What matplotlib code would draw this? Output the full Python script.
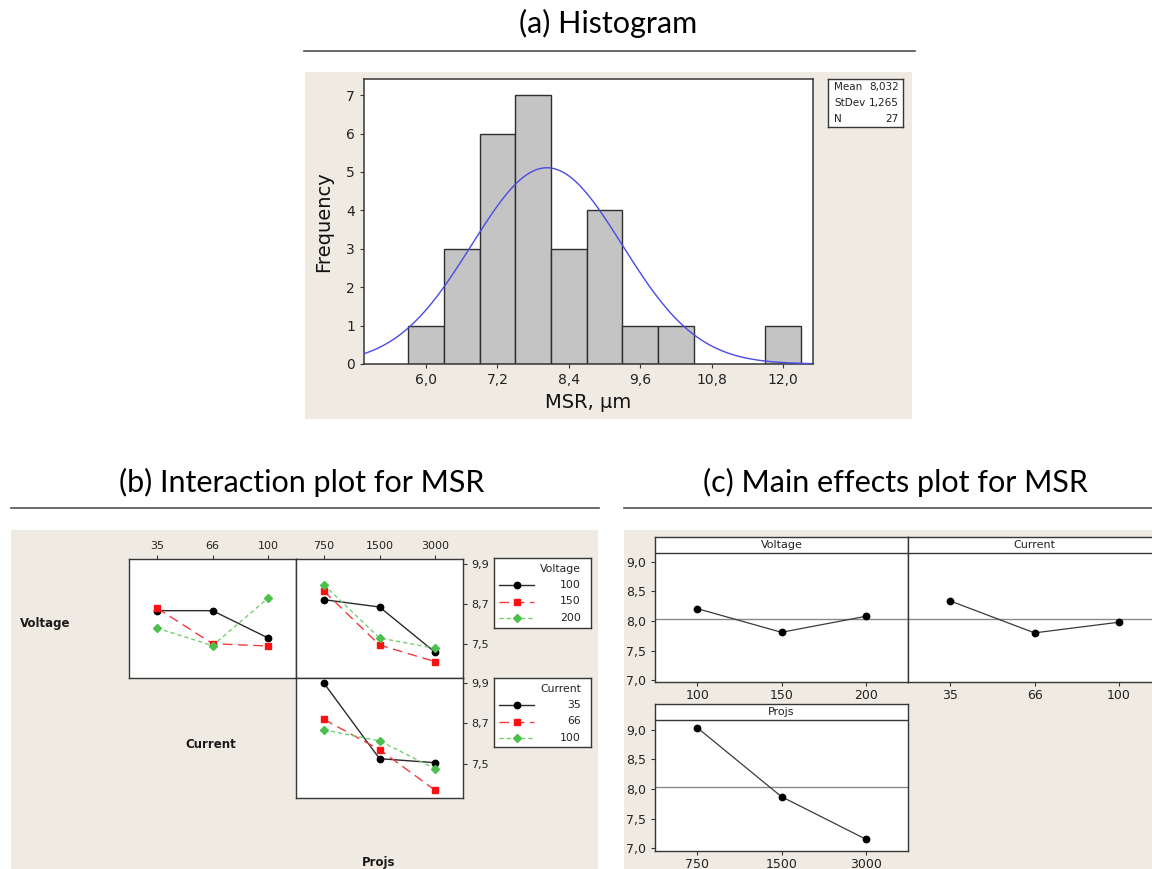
import numpy as np
import matplotlib.pyplot as plt
from matplotlib.patches import Rectangle
from matplotlib.lines import Line2D
from matplotlib.ticker import FuncFormatter

W, H = 1152, 869
BEIGE = '#efebe2'
EDGE = '#363636'
TICK_FONT = 'DejaVu Sans'
TITLE_FONT = ['Lato', 'DejaVu Sans']

# ---- histogram of MSR ----
bin_centers = [6.0, 6.6, 7.2, 7.8, 8.4, 9.0, 9.6, 10.2, 12.0]
bin_counts = [1, 3, 6, 7, 3, 4, 1, 1, 1]
bin_width = 0.6
msr_mean = 8.032
msr_stdev = 1.265
msr_n = 27
hist_ticks = [6.0, 7.2, 8.4, 9.6, 10.8, 12.0]

# ---- factor levels ----
voltage_levels = ['100', '150', '200']
current_levels = ['35', '66', '100']
projs_levels = ['750', '1500', '3000']

# interaction means: one row per trace level, one column per x level
voltage_by_current = [[8.50, 8.50, 7.68],
                      [8.58, 7.51, 7.44],
                      [7.98, 7.45, 8.88]]
voltage_by_projs = [[8.83, 8.61, 7.25],
                    [9.09, 7.47, 6.97],
                    [9.28, 7.68, 7.37]]
current_by_projs = [[9.90, 7.65, 7.53],
                    [8.82, 7.92, 6.71],
                    [8.51, 8.18, 7.35]]
interaction_ticks = [7.5, 8.7, 9.9]

# main effect means
voltage_main = [8.21, 7.81, 8.08]
current_main = [8.34, 7.80, 7.98]
projs_main = [9.04, 7.87, 7.15]
main_ticks = [7.0, 7.5, 8.0, 8.5, 9.0]

comma1 = FuncFormatter(lambda v, p: f'{v:.1f}'.replace('.', ','))

fig = plt.figure(figsize=(W / 100, H / 100), dpi=100)
fig.patch.set_facecolor('white')


def px_axes(x0, y0, x1, y1, **kw):
    return fig.add_axes([x0 / W, 1 - y1 / H, (x1 - x0) / W, (y1 - y0) / H], **kw)


def px_rect(x0, y0, x1, y1, **kw):
    fig.add_artist(Rectangle((x0 / W, 1 - y1 / H), (x1 - x0) / W, (y1 - y0) / H,
                             transform=fig.transFigure, zorder=-5, **kw))


def px_hline(x0, x1, y, **kw):
    fig.add_artist(Line2D([x0 / W, x1 / W], [1 - y / H, 1 - y / H],
                          transform=fig.transFigure, **kw))


def px_text(x, y, s, **kw):
    fig.text(x / W, 1 - y / H, s, **kw)


def frame(ax, lw=1.0):
    for sp in ax.spines.values():
        sp.set_color(EDGE)
        sp.set_linewidth(lw)


# panel backgrounds
px_rect(305, 72, 912, 419, facecolor=BEIGE, edgecolor='none')
px_rect(11, 530, 598, 869, facecolor=BEIGE, edgecolor='none')
px_rect(624, 530, 1152, 869, facecolor=BEIGE, edgecolor='none')

# panel titles with rules
px_text(608, 33, '(a) Histogram', fontsize=22, family=TITLE_FONT, ha='center', va='baseline')
px_hline(304, 915, 51, color='#505050', lw=1.2)
px_text(302, 492, '(b) Interaction plot for MSR', fontsize=22, family=TITLE_FONT,
        ha='center', va='baseline')
px_hline(11, 599, 508, color='#505050', lw=1.2)
px_text(895, 492, '(c) Main effects plot for MSR', fontsize=22, family=TITLE_FONT,
        ha='center', va='baseline')
px_hline(624, 1152, 508, color='#505050', lw=1.2)

# ---------------- (a) histogram ----------------
axh = px_axes(364, 79, 813, 364)
axh.bar(bin_centers, bin_counts, width=bin_width, color='#c4c4c4',
        edgecolor='#2e2e2e', linewidth=1.0, zorder=2)
xs = np.linspace(4.96, 12.5, 400)
pdf = np.exp(-0.5 * ((xs - msr_mean) / msr_stdev) ** 2) / (msr_stdev * np.sqrt(2 * np.pi))
axh.plot(xs, msr_n * bin_width * pdf, color='#4a4ae6', lw=1.0, zorder=3)
axh.set_xlim(4.96, 12.5)
axh.set_ylim(0, 7.42)
axh.set_xticks(hist_ticks)
axh.xaxis.set_major_formatter(comma1)
axh.set_yticks(range(0, 8))
axh.tick_params(labelsize=10, length=3, width=0.8, color=EDGE, labelcolor='#222222')
for lab in axh.get_xticklabels() + axh.get_yticklabels():
    lab.set_family(TICK_FONT)
axh.set_ylabel('Frequency', fontsize=14, family=TICK_FONT, color='#111111', va='center')
axh.set_xlabel('MSR, µm', fontsize=14, family=TICK_FONT, color='#111111', va='center')
axh.yaxis.set_label_coords(-(364 - 324) / 449, 0.5)
axh.xaxis.set_label_coords(0.5, -(403 - 364) / 285)
frame(axh, 1.1)

# summary statistics box
axs = px_axes(828, 79, 903, 127)
axs.set_xticks([])
axs.set_yticks([])
frame(axs, 1.0)
stats = [('Mean', f'{msr_mean:.3f}'.replace('.', ',')),
         ('StDev', f'{msr_stdev:.3f}'.replace('.', ',')),
         ('N', f'{msr_n}')]
for i, (k, v) in enumerate(stats):
    yy = 1 - (i + 0.5) / 3
    axs.text(0.08, yy, k, fontsize=7.5, family=TICK_FONT, ha='left', va='center',
             color='#222222', transform=axs.transAxes)
    axs.text(0.94, yy, v, fontsize=7.5, family=TICK_FONT, ha='right', va='center',
             color='#222222', transform=axs.transAxes)

# ---------------- (b) interaction plot ----------------
trace_styles = [
    dict(color='#2b2b2b', ls='-', marker='o', ms=4.6, mfc='black', mec='black'),
    dict(color='#f03c3c', ls=(0, (7, 4)), marker='s', ms=5.0, mfc='#ff1010', mec='#ff1010'),
    dict(color='#74cf74', ls=(0, (3, 2.2)), marker='D', ms=4.2, mfc='#4cc04c', mec='#4cc04c'),
]
INT_YLIM = (6.48, 10.05)


def interaction_panel(ax, x_levels, rows, top_ticks, right_ticks):
    for vals, st in zip(rows, trace_styles):
        ax.plot(x_levels, vals, lw=1.0, **st)
    ax.set_xlim(-0.5, 2.5)
    ax.set_ylim(*INT_YLIM)
    frame(ax, 1.0)
    if top_ticks:
        ax.xaxis.tick_top()
        ax.tick_params(axis='x', labelsize=8, length=3, width=0.8, color=EDGE, pad=3)
    else:
        ax.tick_params(axis='x', bottom=False, top=False, labelbottom=False, labeltop=False)
    if right_ticks:
        ax.yaxis.tick_right()
        ax.set_yticks(interaction_ticks)
        ax.yaxis.set_major_formatter(comma1)
        ax.tick_params(axis='y', labelsize=8, length=3, width=0.8, color=EDGE, pad=3)
    else:
        ax.set_yticks([])
    for lab in ax.get_xticklabels() + ax.get_yticklabels():
        lab.set_family(TICK_FONT)
        lab.set_color('#222222')


ax_vc = px_axes(129, 559, 296, 678)
interaction_panel(ax_vc, current_levels, voltage_by_current, True, False)
ax_vp = px_axes(296, 559, 463, 678)
interaction_panel(ax_vp, projs_levels, voltage_by_projs, True, True)
ax_cp = px_axes(296, 678, 463, 798)
interaction_panel(ax_cp, projs_levels, current_by_projs, False, True)

for (name, xc, yc, va) in [('Voltage', 45, 624, 'center'),
                           ('Current', 211, 744, 'center'),
                           ('Projs', 379, 856, 'top')]:
    px_text(xc, yc, name, fontsize=8.5, family=TICK_FONT, weight='bold',
            ha='center', va=va, color='#1a1a1a')


def legend_box(y0, y1, title, levels):
    ax = px_axes(494, y0, 591, y1)
    ax.set_xlim(0, 97)
    ax.set_ylim(y1 - y0, 0)
    ax.set_xticks([])
    ax.set_yticks([])
    frame(ax, 1.0)
    ax.text(87, 11, title, fontsize=7.8, family=TICK_FONT, ha='right', va='center',
            color='#222222')
    for i, (lev, st) in enumerate(zip(levels, trace_styles)):
        yy = 27 + 16.5 * i
        ax.plot([5, 40], [yy, yy], lw=1.0, color=st['color'], ls=st['ls'])
        ax.plot([23], [yy], marker=st['marker'], ms=st['ms'], mfc=st['mfc'],
                mec=st['mec'], ls='none')
        ax.text(87, yy, lev, fontsize=7.8, family=TICK_FONT, ha='right', va='center',
                color='#222222')


legend_box(558, 628, 'Voltage', voltage_levels)
legend_box(678, 747, 'Current', current_levels)

# ---------------- (c) main effects plot ----------------


def main_panel(ax, levels, vals, name, ylim, strip_y, show_y):
    ax.plot(levels, vals, color='#3a3a3a', lw=0.9, marker='o', ms=4.6,
            mfc='black', mec='black', zorder=3)
    ax.axhline(msr_mean, color='#8a8a8a', lw=1.0, zorder=2)
    ax.axhline(strip_y, color=EDGE, lw=1.0, zorder=2)
    ax.text(0.5, (strip_y + ylim[1]) / 2, name, transform=ax.get_yaxis_transform(),
            fontsize=8, family=TICK_FONT, ha='center', va='center', color='#222222')
    ax.set_xlim(-0.5, 2.5)
    ax.set_ylim(*ylim)
    frame(ax, 1.0)
    ax.tick_params(labelsize=9, length=3, width=0.8, color=EDGE, labelcolor='#222222')
    ax.tick_params(axis='x', pad=2)
    if show_y:
        ax.set_yticks(main_ticks)
        ax.yaxis.set_major_formatter(comma1)
    else:
        ax.set_yticks([])
    for lab in ax.get_xticklabels() + ax.get_yticklabels():
        lab.set_family(TICK_FONT)


ax_mv = px_axes(655, 537, 908, 682)
main_panel(ax_mv, voltage_levels, voltage_main, 'Voltage', (6.97, 9.42), 9.15, True)
ax_mc = px_axes(908, 537, 1161, 682)
main_panel(ax_mc, current_levels, current_main, 'Current', (6.97, 9.42), 9.15, False)
ax_mp = px_axes(655, 704, 908, 851)
main_panel(ax_mp, projs_levels, projs_main, 'Projs', (6.95, 9.44), 9.17, True)

fig.savefig('out.png', dpi=100)
